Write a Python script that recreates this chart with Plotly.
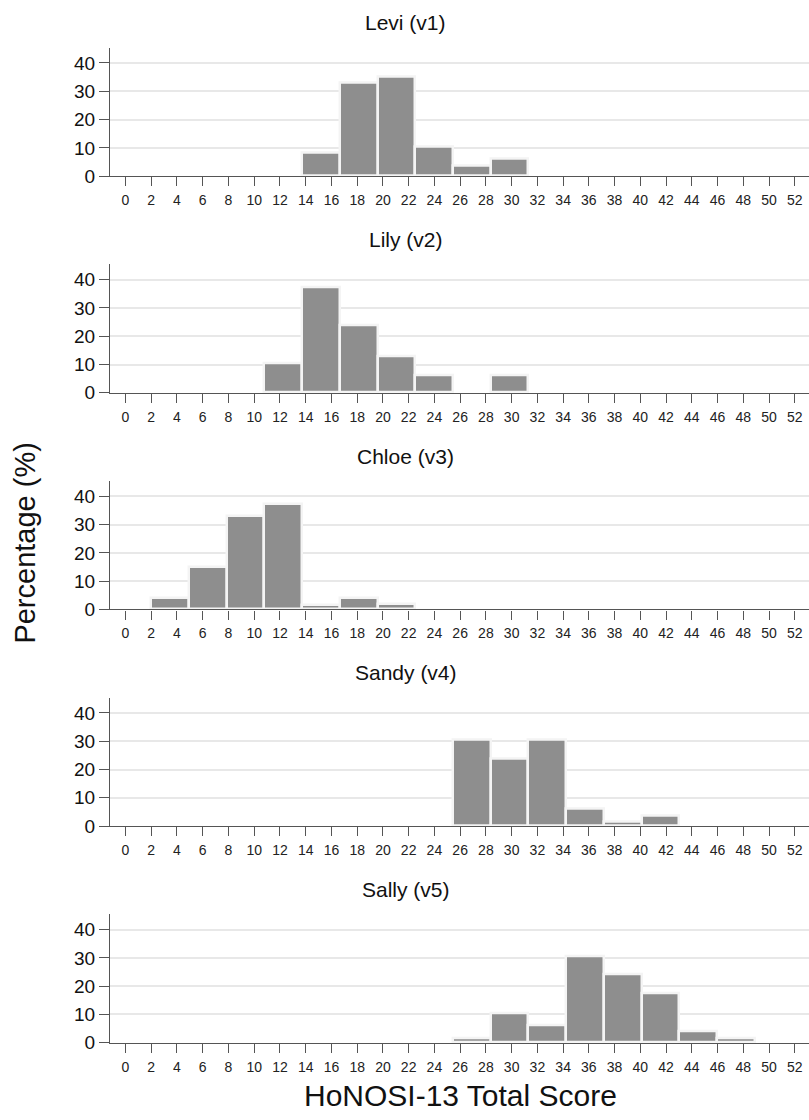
import plotly.graph_objects as go

# ---- data ----
panel_titles = ["Levi (v1)", "Lily (v2)", "Chloe (v3)", "Sandy (v4)", "Sally (v5)"]
bin_start = 2.0
bin_width = 2.93
levi  = [0, 0, 0, 0, 8.3, 32.9, 35.3, 10.4, 3.7, 6.2, 0, 0, 0, 0, 0, 0]
lily  = [0, 0, 0, 10.5, 37.3, 24.0, 13.0, 6.3, 0, 6.3, 0, 0, 0, 0, 0, 0]
chloe = [4.0, 14.9, 32.9, 37.4, 1.7, 4.0, 1.8, 0, 0, 0, 0, 0, 0, 0, 0, 0]
sandy = [0, 0, 0, 0, 0, 0, 0, 0, 30.6, 24.0, 30.6, 6.2, 1.7, 3.8, 0, 0]
sally = [0, 0, 0, 0, 0, 0, 0, 0, 1.7, 10.5, 6.2, 30.7, 24.1, 17.4, 4.0, 1.7]
x_ticks = list(range(0, 53, 2))
y_ticks = [0, 10, 20, 30, 40]
x_title = "HoNOSI-13 Total Score"
y_title = "Percentage (%)"

series = [levi, lily, chloe, sandy, sally]

W, H = 809, 1120
FONT = "Liberation Sans, Arial, sans-serif"
fig = go.Figure()

centers = [bin_start + bin_width * (i + 0.5) for i in range(len(levi))]

# panel geometry in pixels
zero_y0 = 177.9
pitch = 218.8
px_per_unit = 2.858
ymax = 45.4

for k, vals in enumerate(series):
    xa = "x" if k == 0 else f"x{k+1}"
    ya = "y" if k == 0 else f"y{k+1}"
    xs = [c for c, v in zip(centers, vals) if v > 0]
    ys = [v for v in vals if v > 0]
    fig.add_trace(go.Bar(x=xs, y=ys, width=bin_width, xaxis=xa, yaxis=ya,
                         marker=dict(color="#8e8e8e", line=dict(color="#f4f4f4", width=2.5)),
                         showlegend=False, hoverinfo="skip"))
    zero = zero_y0 + pitch * k
    top = zero - ymax * px_per_unit
    dom = [1 - zero / H, 1 - top / H]
    axkey = "xaxis" if k == 0 else f"xaxis{k+1}"
    aykey = "yaxis" if k == 0 else f"yaxis{k+1}"
    fig.update_layout(**{
        axkey: dict(domain=[110 / W, 1], range=[-1.2, 53.1], anchor=ya,
                    tickvals=x_ticks, ticktext=[str(t) for t in x_ticks],
                    ticks="outside", ticklen=9, tickwidth=1.2, tickcolor="#555555",
                    showline=True, linecolor="#555555", linewidth=1.3,
                    showgrid=False, zeroline=False, ticklabelstandoff=2,
                    tickfont=dict(family=FONT, size=14, color="#222222")),
        aykey: dict(domain=dom, range=[0, ymax], anchor=xa,
                    tickvals=y_ticks, ticks="outside", ticklen=10, tickwidth=1.2,
                    tickcolor="#555555", showline=True, linecolor="#555555", linewidth=1.3,
                    showgrid=True, gridcolor="#e8e8e8", gridwidth=1.5, zeroline=False,
                    tickfont=dict(family=FONT, size=19, color="#111111")),
    })
    fig.add_annotation(text=panel_titles[k], xref="paper", yref="paper",
                       x=406 / W, y=1 - (top - 25) / H, showarrow=False,
                       font=dict(family=FONT, size=21, color="#111111"),
                       xanchor="center", yanchor="middle")

fig.add_annotation(text=x_title, xref="paper", yref="paper", x=460 / W, y=1 - 1106 / H,
                   showarrow=False, font=dict(family=FONT, size=30, color="#111111"),
                   xanchor="center", yanchor="middle")
fig.add_annotation(text=y_title, xref="paper", yref="paper", x=25 / W, y=1 - 548 / H,
                   showarrow=False, textangle=-90, font=dict(family=FONT, size=29, color="#111111"),
                   xanchor="center", yanchor="middle")

fig.update_layout(width=W, height=H, margin=dict(l=0, r=0, t=0, b=0),
                  paper_bgcolor="white", plot_bgcolor="white", bargap=0)
fig.write_html("out.html")
